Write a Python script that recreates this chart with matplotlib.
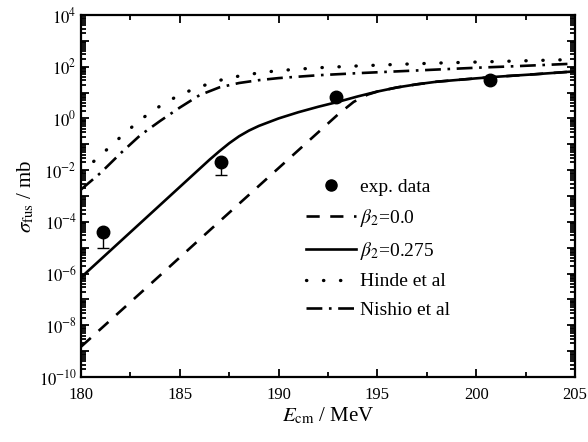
import numpy as np
import matplotlib
matplotlib.use("Agg")
import matplotlib.pyplot as plt
from matplotlib.lines import Line2D
from matplotlib.ticker import FixedLocator, FuncFormatter, LogLocator, MultipleLocator

plt.rcParams['font.family'] = ['Liberation Serif', 'DejaVu Serif']
plt.rcParams['mathtext.fontset'] = 'stix'

# experimental points (E_cm in MeV, sigma in mb), lower error bars only
exp_e = [181.1, 187.1, 192.9, 200.7]
exp_sig = [4.0e-5, 2.1e-2, 6.8, 31.0]
exp_err_lo = [3.0e-5, 1.45e-2, 0.0, 0.0]

# beta2 = 0.275 (solid)
e_solid = [180, 181, 182, 183, 184, 185, 186, 186.5, 187, 187.5, 188, 188.5,
           189, 190, 191, 192, 193, 194, 195, 196, 197, 198, 200, 201, 203, 205]
log_solid = [-6.15, -5.45, -4.75, -4.05, -3.35, -2.65, -1.95, -1.6, -1.27,
             -0.96, -0.69, -0.47, -0.29, 0.0, 0.24, 0.45, 0.64, 0.85, 1.04,
             1.2, 1.32, 1.42, 1.55, 1.61, 1.71, 1.82]

# beta2 = 0.0 (dashed)
e_dash = [180, 182, 184, 186, 188, 190, 192, 193, 193.8, 194.5, 195, 196,
          197, 198, 200, 201, 203, 205]
log_dash = [-8.83, -7.45, -6.07, -4.68, -3.30, -1.92, -0.54, 0.15, 0.64,
            0.92, 1.04, 1.2, 1.32, 1.42, 1.55, 1.61, 1.71, 1.82]

# Hinde et al (dotted)
e_hinde = [180, 181, 182, 183, 184, 185, 186, 187, 188, 189, 190, 192, 194,
           196, 198, 200, 202, 205]
log_hinde = [-2.1, -1.42, -0.72, -0.05, 0.48, 0.92, 1.22, 1.47, 1.64, 1.76,
             1.85, 1.96, 2.03, 2.09, 2.14, 2.18, 2.22, 2.28]

# Nishio et al (dash-dot)
e_nishio = [180, 181, 182, 183, 184, 185, 186, 187, 188, 189, 190, 192, 194,
            196, 198, 200, 202, 205]
log_nishio = [-2.75, -2.1, -1.35, -0.65, -0.1, 0.42, 0.9, 1.2, 1.37, 1.48,
              1.56, 1.67, 1.75, 1.82, 1.89, 1.96, 2.02, 2.12]

fig = plt.figure(figsize=(5.88, 4.42), dpi=100)
ax = fig.add_axes([81 / 588, 1 - 377 / 442, 494 / 588, 362 / 442])

lw = 1.9
ax.errorbar(exp_e, exp_sig, yerr=[exp_err_lo, [0] * 4], fmt='o', color='k',
            ms=9, elinewidth=1.0, capsize=4, capthick=1.0)
h_dash, = ax.plot(e_dash, 10 ** np.array(log_dash), color='k', lw=lw,
                  ls=(0, (5, 4)), label=r'$\beta_2$=0.0')
h_solid, = ax.plot(e_solid, 10 ** np.array(log_solid), color='k', lw=lw,
                   label=r'$\beta_2$=0.275')
h_hinde, = ax.plot(e_hinde, 10 ** np.array(log_hinde), color='k', lw=2.4,
                   ls=(0, (0.1, 5.0)), dash_capstyle='round', label='Hinde et al')
h_nishio, = ax.plot(e_nishio, 10 ** np.array(log_nishio), color='k', lw=lw,
                    ls=(0, (6, 2.5, 1, 2.5)), label='Nishio et al')
h_exp = Line2D([], [], color='k', marker='o', ms=8, ls='none', label='exp. data')

ax.set_yscale('log')
ax.set_xlim(180, 205)
ax.set_ylim(1e-10, 1e4)

ax.xaxis.set_major_locator(MultipleLocator(5))
ax.xaxis.set_minor_locator(MultipleLocator(2.5))
ax.yaxis.set_major_locator(FixedLocator([10.0 ** k for k in range(-10, 5)]))
ax.yaxis.set_minor_locator(LogLocator(base=10, subs=np.arange(2, 10), numticks=30))


def ylab(v, pos):
    k = int(round(np.log10(v)))
    if k % 2:
        return ''
    return r'$10^{%d}$' % k


ax.yaxis.set_major_formatter(FuncFormatter(ylab))

ax.tick_params(which='both', direction='in', top=True, right=True,
               labelsize=12, width=1.3)
ax.tick_params(which='major', length=6)
ax.tick_params(which='minor', length=3.5)
ax.tick_params(axis='x', pad=7)
ax.tick_params(axis='y', pad=3)
for s in ax.spines.values():
    s.set_linewidth(1.6)

ax.set_xlabel(r'$E_{\rm cm}$ / MeV', fontsize=15, labelpad=2)
ax.set_ylabel(r'$\sigma_{\rm fus}$ / mb', fontsize=15, labelpad=2)

leg = ax.legend(handles=[h_exp, h_dash, h_solid, h_hinde, h_nishio],
                loc='upper left', bbox_to_anchor=(0.455, 0.55), frameon=False,
                fontsize=14, handlelength=2.6, handletextpad=0.2,
                labelspacing=0.57, borderpad=0, borderaxespad=0)

fig.savefig('out.png', dpi=100)
